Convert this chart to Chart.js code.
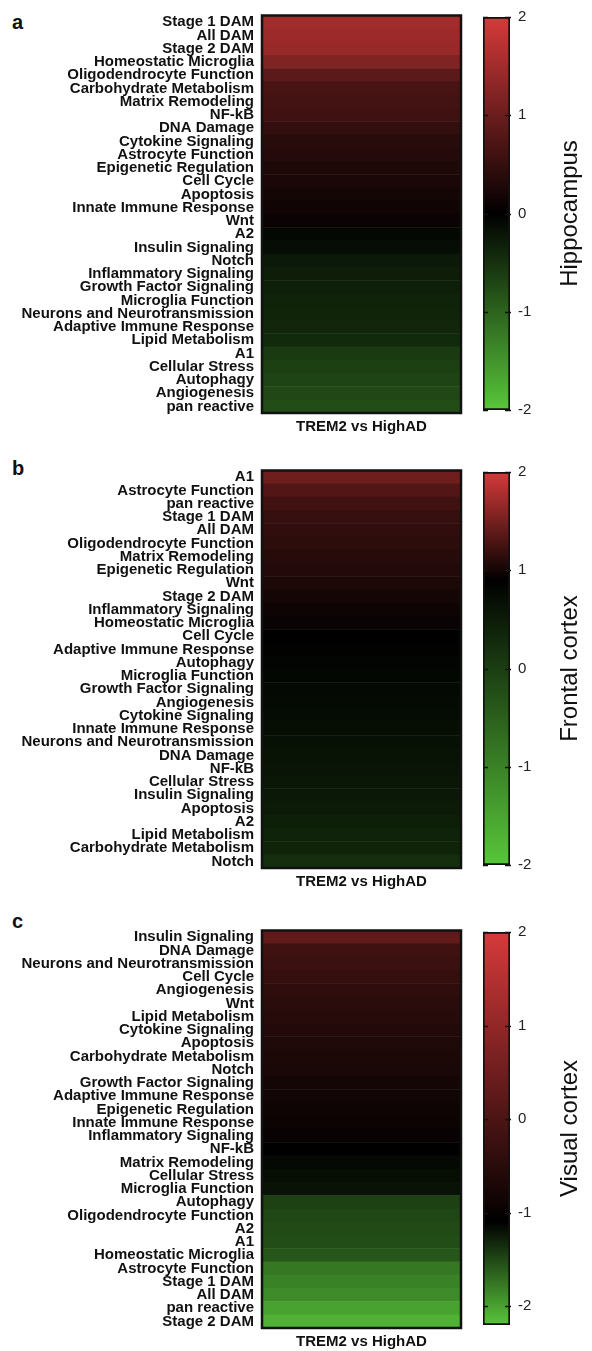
<!DOCTYPE html>
<html>
<head>
<meta charset="utf-8">
<script src="https://cdn.jsdelivr.net/npm/chart.js@4.4.0/dist/chart.umd.min.js"></script>
<style>
  body { margin: 0; background: #fff; }
  #page { position: relative; width: 592px; height: 1351px; overflow: hidden; font-family: 'Liberation Sans', Arial, sans-serif; }
  .letter { position: absolute; left: 12px; font-weight: bold; font-size: 20px; line-height: 20px; color: #111; }
  canvas { position: absolute; }
</style>
</head>
<body>
<div id="page">
  <div class="letter" style="top:12px">a</div>
  <div class="letter" style="top:458px">b</div>
  <div class="letter" style="top:911px">c</div>
  <canvas id="heatA" width="470" height="450" style="left:0;top:0"></canvas>
  <canvas id="barA" width="122" height="450" style="left:470px;top:0"></canvas>
  <canvas id="heatB" width="470" height="450" style="left:0;top:455px"></canvas>
  <canvas id="barB" width="122" height="450" style="left:470px;top:455px"></canvas>
  <canvas id="heatC" width="470" height="450" style="left:0;top:915px"></canvas>
  <canvas id="barC" width="122" height="450" style="left:470px;top:915px"></canvas>
</div>
<script>
// column label shared by all three panels
const comparison = "TREM2 vs HighAD";

// a - Hippocampus
const labelsA = ["Stage 1 DAM", "All DAM", "Stage 2 DAM", "Homeostatic Microglia", "Oligodendrocyte Function",
  "Carbohydrate Metabolism", "Matrix Remodeling", "NF-kB", "DNA Damage", "Cytokine Signaling", "Astrocyte Function",
  "Epigenetic Regulation", "Cell Cycle", "Apoptosis", "Innate Immune Response", "Wnt", "A2", "Insulin Signaling",
  "Notch", "Inflammatory Signaling", "Growth Factor Signaling", "Microglia Function", "Neurons and Neurotransmission",
  "Adaptive Immune Response", "Lipid Metabolism", "A1", "Cellular Stress", "Autophagy", "Angiogenesis", "pan reactive"];
const valuesA = [1.5, 1.46, 1.41, 1.2, 0.85, 0.66, 0.63, 0.6, 0.47, 0.37, 0.34, 0.29, 0.25, 0.2, 0.15, 0.1,
  -0.08, -0.13, -0.26, -0.29, -0.31, -0.34, -0.36, -0.38, -0.42, -0.6, -0.65, -0.68, -0.72, -0.78];
const rangeA = [-2, 0, 2]; // min, black point, max

// b - Frontal cortex
const labelsB = ["A1", "Astrocyte Function", "pan reactive", "Stage 1 DAM", "All DAM", "Oligodendrocyte Function",
  "Matrix Remodeling", "Epigenetic Regulation", "Wnt", "Stage 2 DAM", "Inflammatory Signaling", "Homeostatic Microglia",
  "Cell Cycle", "Adaptive Immune Response", "Autophagy", "Microglia Function", "Growth Factor Signaling", "Angiogenesis",
  "Cytokine Signaling", "Innate Immune Response", "Neurons and Neurotransmission", "DNA Damage", "NF-kB",
  "Cellular Stress", "Insulin Signaling", "Apoptosis", "A2", "Lipid Metabolism", "Carbohydrate Metabolism", "Notch"];
const valuesB = [1.47, 1.32, 1.23, 1.18, 1.15, 1.13, 1.1, 1.08, 1.05, 1.01, 0.97, 0.95, 0.9, 0.85, 0.82, 0.8,
  0.76, 0.74, 0.72, 0.7, 0.66, 0.63, 0.6, 0.57, 0.55, 0.52, 0.45, 0.4, 0.38, 0.22];
const rangeB = [-2, 0.9, 2];

// c - Visual cortex
const labelsC = ["Insulin Signaling", "DNA Damage", "Neurons and Neurotransmission", "Cell Cycle", "Angiogenesis", "Wnt",
  "Lipid Metabolism", "Cytokine Signaling", "Apoptosis", "Carbohydrate Metabolism", "Notch", "Growth Factor Signaling",
  "Adaptive Immune Response", "Epigenetic Regulation", "Innate Immune Response", "Inflammatory Signaling", "NF-kB",
  "Matrix Remodeling", "Cellular Stress", "Microglia Function", "Autophagy", "Oligodendrocyte Function", "A2", "A1",
  "Homeostatic Microglia", "Astrocyte Function", "Stage 1 DAM", "All DAM", "pan reactive", "Stage 2 DAM"];
const valuesC = [0.29, -0.17, -0.25, -0.33, -0.4, -0.48, -0.54, -0.6, -0.63, -0.68, -0.73, -0.8, -0.84, -0.88,
  -0.92, -0.98, -1.08, -1.15, -1.18, -1.2, -1.46, -1.49, -1.51, -1.53, -1.58, -1.76, -1.82, -1.87, -2.0, -2.09];
const rangeC = [-2.2, -1.1, 2];

const RED = [214, 58, 58];
const GREEN = [88, 198, 58];
const FONT = "'Liberation Sans', Arial, sans-serif";

// red - black - green colour scale
function colorFor(v, range) {
  const [min, mid, max] = range;
  let base, t;
  if (v >= mid) { base = RED; t = (v - mid) / (max - mid); }
  else { base = GREEN; t = (mid - v) / (mid - min); }
  t = Math.max(0, Math.min(1, t));
  return `rgb(${base.map(c => Math.round(c * t)).join(",")})`;
}

// black frame round the heatmap
const framePlugin = {
  id: "frame",
  afterDraw(chart) {
    const a = chart.chartArea;
    const ctx = chart.ctx;
    ctx.save();
    ctx.strokeStyle = "#111";
    ctx.lineWidth = 2.5;
    ctx.strokeRect(a.left, a.top, a.right - a.left, a.bottom - a.top);
    ctx.restore();
  }
};

// inward tick marks on both edges of the colour bar + rotated region name
const colorBarPlugin = {
  id: "colorBarDeco",
  afterDraw(chart, args, opts) {
    const a = chart.chartArea;
    const ctx = chart.ctx;
    const y = chart.scales.y;
    ctx.save();
    ctx.strokeStyle = "#111";
    ctx.lineWidth = 1.5;
    y.ticks.forEach(t => {
      const py = Math.round(y.getPixelForValue(t.value)) + 0.5;
      ctx.beginPath();
      ctx.moveTo(a.left, py); ctx.lineTo(a.left + 5, py);
      ctx.moveTo(a.right - 5, py); ctx.lineTo(a.right + 1, py);
      ctx.stroke();
    });
    ctx.translate(opts.x, (a.top + a.bottom) / 2);
    ctx.rotate(-Math.PI / 2);
    ctx.font = "24px " + FONT;
    ctx.fillStyle = "#111";
    ctx.textAlign = "center";
    ctx.textBaseline = "middle";
    ctx.fillText(opts.text, 0, 0);
    ctx.restore();
  }
};

function makeHeatmap(id, labels, values, range) {
  new Chart(document.getElementById(id), {
    type: "bar",
    data: {
      labels: labels,
      datasets: [{
        data: values.map(() => 1),
        backgroundColor: values.map(v => colorFor(v, range)),
        borderWidth: 0,
        barPercentage: 1,
        categoryPercentage: 1
      }]
    },
    options: {
      indexAxis: "y",
      responsive: false,
      animation: false,
      layout: { padding: { top: 14, right: 9 } },
      plugins: { legend: { display: false }, tooltip: { enabled: false } },
      scales: {
        x: {
          min: 0, max: 1,
          ticks: { display: false },
          grid: { display: false, drawTicks: false },
          border: { display: false },
          title: { display: true, text: comparison, color: "#111", font: { family: FONT, size: 15, weight: "bold" }, padding: { top: 0, bottom: 14 } },
          afterFit: s => { s.height = 37; }
        },
        y: {
          ticks: { autoSkip: false, color: "#111", padding: 8, font: { family: FONT, size: 15, weight: "bold", lineHeight: 1 } },
          grid: { display: false, drawTicks: false },
          border: { display: false },
          afterFit: s => { s.width = 262; }
        }
      }
    },
    plugins: [framePlugin]
  });
}

function makeColorBar(id, range, title) {
  const [min, mid, max] = range;
  new Chart(document.getElementById(id), {
    type: "bar",
    data: {
      labels: [""],
      datasets: [{
        data: [[min, max]],
        backgroundColor: ctx => {
          const chart = ctx.chart;
          if (!chart.chartArea) return "#000";
          const y = chart.scales.y;
          const g = chart.ctx.createLinearGradient(0, y.getPixelForValue(max), 0, y.getPixelForValue(min));
          g.addColorStop(0, `rgb(${RED.join(",")})`);
          g.addColorStop((max - mid) / (max - min), "#000");
          g.addColorStop(1, `rgb(${GREEN.join(",")})`);
          return g;
        },
        borderColor: "#111",
        borderWidth: 2,
        borderSkipped: false,
        barPercentage: 1,
        categoryPercentage: 1
      }]
    },
    options: {
      responsive: false,
      animation: false,
      layout: { padding: { left: 13, top: 15, bottom: 40 } },
      plugins: {
        legend: { display: false },
        tooltip: { enabled: false },
        colorBarDeco: { text: title, x: 100 }
      },
      scales: {
        x: { display: false },
        y: {
          position: "right",
          min: min, max: max,
          ticks: { stepSize: 1, includeBounds: false, color: "#222", padding: 8, font: { family: FONT, size: 15 } },
          grid: { display: false, drawTicks: false },
          border: { display: false },
          afterFit: s => { s.width = 82; }
        }
      }
    },
    plugins: [colorBarPlugin]
  });
}

makeHeatmap("heatA", labelsA, valuesA, rangeA);
makeColorBar("barA", rangeA, "Hippocampus");
makeHeatmap("heatB", labelsB, valuesB, rangeB);
makeColorBar("barB", rangeB, "Frontal cortex");
makeHeatmap("heatC", labelsC, valuesC, rangeC);
makeColorBar("barC", rangeC, "Visual cortex");
</script>
</body>
</html>
